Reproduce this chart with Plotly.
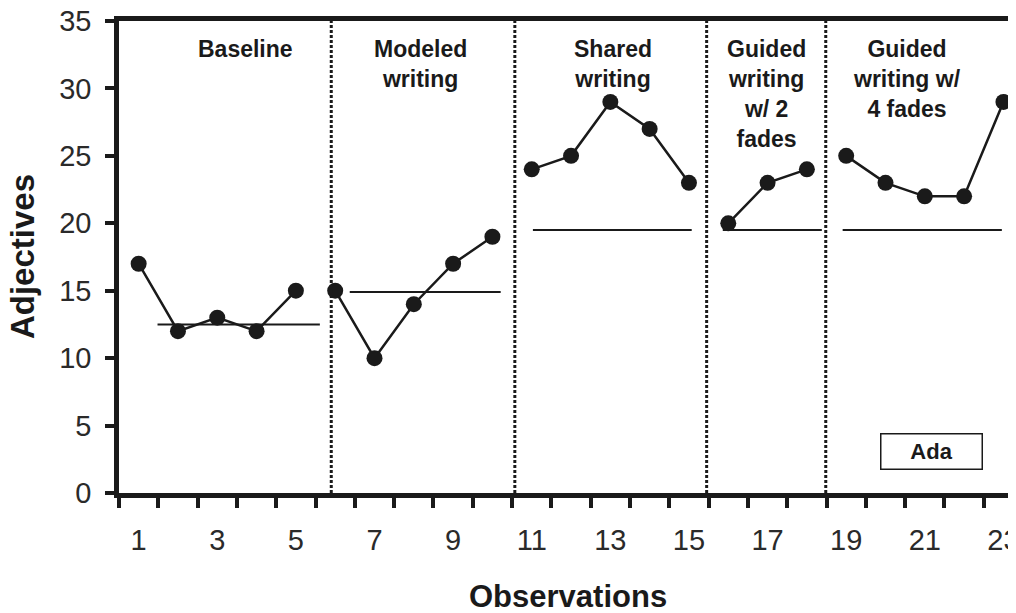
import plotly.graph_objects as go

# ---- data ----
phase_names = ["Baseline", "Modeled<br>writing", "Shared<br>writing",
               "Guided<br>writing<br>w/ 2<br>fades", "Guided<br>writing w/<br>4 fades"]
phase_obs = [[1, 2, 3, 4, 5],
             [6, 7, 8, 9, 10],
             [11, 12, 13, 14, 15],
             [16, 17, 18],
             [19, 20, 21, 22, 23]]
phase_vals = [[17, 12, 13, 12, 15],
              [15, 10, 14, 17, 19],
              [24, 25, 29, 27, 23],
              [20, 23, 24],
              [25, 23, 22, 22, 29]]
level_vals = [12.5, 14.9, 19.5, 19.5, 19.5]
level_start = [1.48, 6.37, 11.03, 15.86, 18.91]
level_end = [5.61, 10.21, 15.07, 18.38, 22.96]
phase_changes = [5.9, 10.57, 15.45, 18.48]
label_x = [3.72, 8.18, 13.06, 16.98, 20.54]
x_tickvals = [1, 3, 5, 7, 9, 11, 13, 15, 17, 19, 21, 23]
x_minor_ticks = [i + 0.5 for i in range(0, 24)]
y_tickvals = [0, 5, 10, 15, 20, 25, 30, 35]
participant = "Ada"
x_title = "Observations"
y_title = "Adjectives"

FONT = "Liberation Sans, Arial, Helvetica, sans-serif"
INK = "#1a1a1a"

fig = go.Figure()

for xs, ys in zip(phase_obs, phase_vals):
    fig.add_trace(go.Scatter(
        x=xs, y=ys, mode="lines+markers",
        line=dict(color=INK, width=2.5),
        marker=dict(color=INK, size=16),
        showlegend=False, hoverinfo="skip"))

for lv, x0, x1 in zip(level_vals, level_start, level_end):
    fig.add_trace(go.Scatter(
        x=[x0, x1], y=[lv, lv], mode="lines",
        line=dict(color=INK, width=2),
        showlegend=False, hoverinfo="skip"))

for xc in phase_changes:
    fig.add_shape(type="line", x0=xc, x1=xc, y0=0, y1=35,
                  xref="x", yref="y",
                  line=dict(color=INK, width=3, dash="3px,2px"))

for name, lx in zip(phase_names, label_x):
    fig.add_annotation(x=lx, y=34.05, xref="x", yref="y", text=name,
                       showarrow=False, yanchor="top", xanchor="center",
                       align="center",
                       font=dict(family=FONT, size=23, color=INK, weight="bold"))

fig.add_annotation(x=21.18, y=3.1, xref="x", yref="y", text=participant,
                   showarrow=False, xanchor="center", yanchor="middle",
                   width=98, height=32, borderpad=1,
                   bordercolor=INK, borderwidth=1.5, bgcolor="white",
                   font=dict(family=FONT, size=22, color=INK, weight="bold"))

# axis titles
fig.add_annotation(x=0.5, y=-0.2183, xref="paper", yref="paper", text=x_title,
                   showarrow=False, xanchor="center", yanchor="middle",
                   font=dict(family=FONT, size=31, color=INK, weight="bold"))
fig.add_annotation(x=-0.1081, y=0.5, xref="paper", yref="paper", text=y_title,
                   showarrow=False, xanchor="center", yanchor="middle",
                   textangle=-90,
                   font=dict(family=FONT, size=33, color=INK, weight="bold"))

fig.update_layout(
    width=1008, height=605,
    margin=dict(l=111, r=0, t=13, b=120, autoexpand=False),
    paper_bgcolor="white", plot_bgcolor="white",
    template="none",
    font=dict(family=FONT, color=INK),
)

fig.update_xaxes(
    range=[0.5, 23.32], tickmode="array", tickvals=x_tickvals,
    ticks="", ticklabelstandoff=17, ticklabeloverflow="allow",
    tickfont=dict(family=FONT, size=29, color="#2a2a2a"),
    showline=True, linecolor=INK, linewidth=4.5, mirror=True,
    showgrid=False, zeroline=False, automargin=False,
    minor=dict(tickmode="array", tickvals=x_minor_ticks, ticks="outside",
               ticklen=10, tickwidth=4, tickcolor=INK, showgrid=False),
)

fig.update_yaxes(
    range=[0, 35], tickmode="array", tickvals=y_tickvals,
    ticks="outside", ticklen=9, tickwidth=4, tickcolor=INK,
    ticklabelstandoff=8, ticklabeloverflow="allow",
    tickfont=dict(family=FONT, size=29, color="#2a2a2a"),
    showline=True, linecolor=INK, linewidth=4.5, mirror=False,
    showgrid=False, zeroline=False, automargin=False,
)

fig.write_html("out.html")
